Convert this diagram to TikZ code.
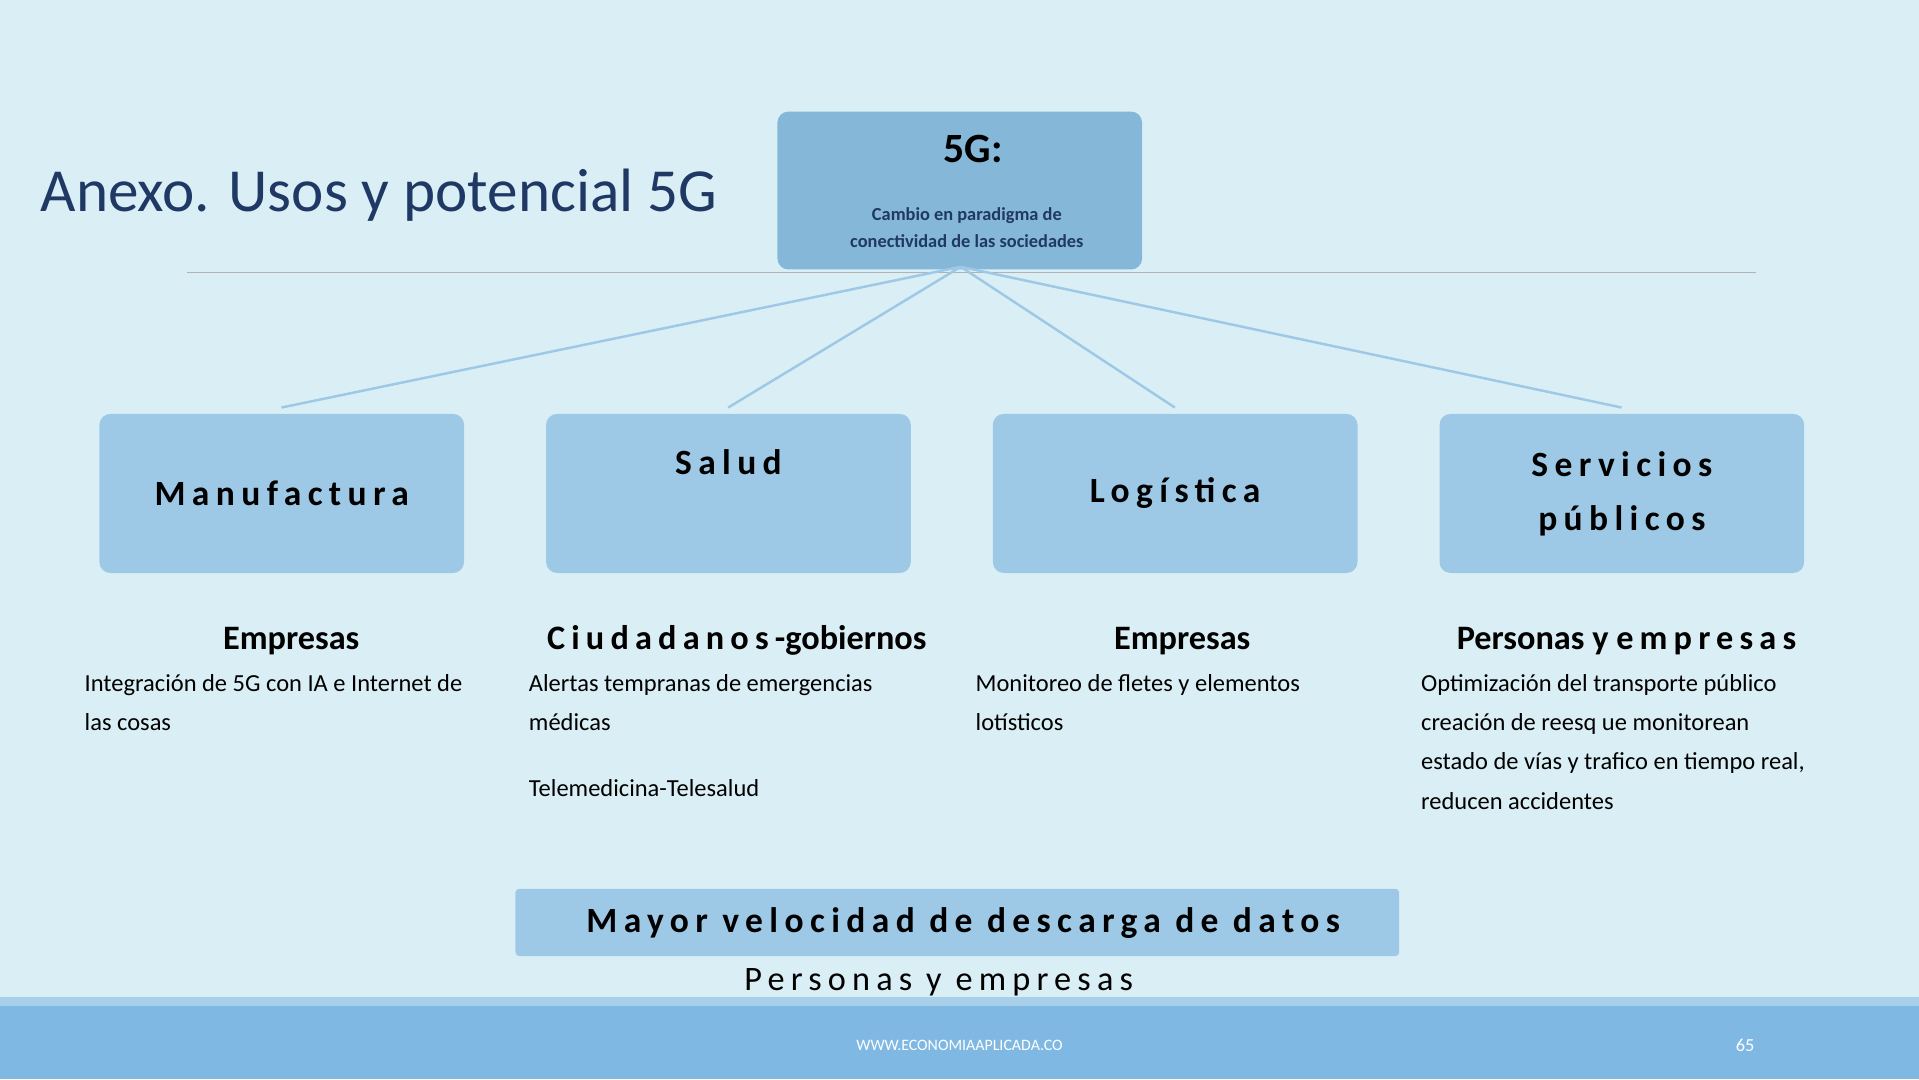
\documentclass[tikz,border=0pt]{standalone}
\usepackage{fontspec}
\setmainfont{Carlito}
\definecolor{bg}{HTML}{DAEFF5}
\definecolor{navy}{HTML}{1F3864}
\definecolor{topbox}{HTML}{85B8D8}
\definecolor{box}{HTML}{9DC9E6}
\definecolor{ln}{HTML}{9DC8E6}
\definecolor{bar}{HTML}{7FB8E3}
\definecolor{bar2}{HTML}{A9D0EA}
\newfontfamily\spaced[LetterSpace=18]{Carlito}
\begin{document}
\begin{tikzpicture}[x=1pt,y=-1pt,
  catbox/.style={fill=box,rounded corners=9pt,minimum width=298pt,minimum height=130pt,anchor=north west,align=center,font=\spaced\bfseries\fontsize{29}{44}\selectfont},
  head/.style={font=\bfseries\fontsize{28}{32}\selectfont,anchor=base},
  body/.style={font=\fontsize{20}{32}\selectfont,anchor=north west,align=left,inner sep=0pt},
  conn/.style={draw=ln,line width=2pt}]
\useasboundingbox (0,0) rectangle (1568,882);
\fill[bg] (0,0) rectangle (1568,882);
\fill[bar2] (0,815) rectangle (1568,822);
\fill[bar] (0,822) rectangle (1568,882);
\node[anchor=base west,inner sep=0pt,text=navy,font=\fontsize{50}{60}\selectfont] (title) at (33,173) {Anexo. Usos y potencial 5G};
\draw[draw=gray!60,line width=0.8pt] (153,223) -- (1435,223);
\node[fill=topbox,rounded corners=9pt,minimum width=298pt,minimum height=129pt,anchor=north west] (top) at (635,91) {};
\node[font=\bfseries\fontsize{34}{40}\selectfont,text=black] (tg) at (795,122) {5G:};
\node[font=\bfseries\fontsize{15}{22}\selectfont,text=navy,align=center] (ts) at (790,186) {Cambio en paradigma de\\conectividad de las sociedades};
\coordinate (hub) at (785,218);
\node[catbox] (b1) at (81,338) {Manufactura};
\node[catbox] (b2) at (446,338) {Salud\\[8pt]};
\node[catbox] (b3) at (811,338) {Logística};
\node[catbox] (b4) at (1176,338) {Servicios\\públicos};
\coordinate (e1) at (230,333);\coordinate (e2) at (595,333);
\coordinate (e3) at (960,333);\coordinate (e4) at (1325,333);
\foreach \e in {e1,e2,e3,e4} \draw[conn] (hub) -- (\e);
\node[head] (h1) at (238,531) {Empresas};
\node[head] (h2) at (602,531) {{\spaced Ciudadanos-}gobiernos};
\node[head] (h3) at (966,531) {Empresas};
\node[head] (h4) at (1329,531) {Personas y {\spaced empresas}};
\node[body] (t1) at (69,551) {Integración de 5G con IA e Internet de\\las cosas};
\node[body] (t2) at (432,551) {Alertas tempranas de emergencias\\médicas\\[22pt]Telemedicina-Telesalud};
\node[body] (t3) at (797,551) {Monitoreo de fletes y elementos\\lotísticos};
\node[body] (t4) at (1161,551) {Optimización del transporte público\\creación de reesq ue monitorean\\estado de vías y trafico en tiempo real,\\reducen accidentes};
\node[fill=box,rounded corners=3pt,minimum width=722pt,minimum height=55pt,anchor=north west] (bb) at (421,726) {};
\node[font=\spaced\bfseries\fontsize{29}{34}\selectfont] (bt) at (787,754) {Mayor velocidad de descarga de datos};
\node[font=\spaced\fontsize{28}{32}\selectfont] (pe) at (767,803) {Personas y empresas};
\node[text=white,font=\fontsize{13}{15}\selectfont] (ft) at (784,854) {WWW.ECONOMIAAPLICADA.CO};
\node[text=white,font=\fontsize{15}{17}\selectfont] (pg) at (1426,854) {65};
\end{tikzpicture}
\end{document}
